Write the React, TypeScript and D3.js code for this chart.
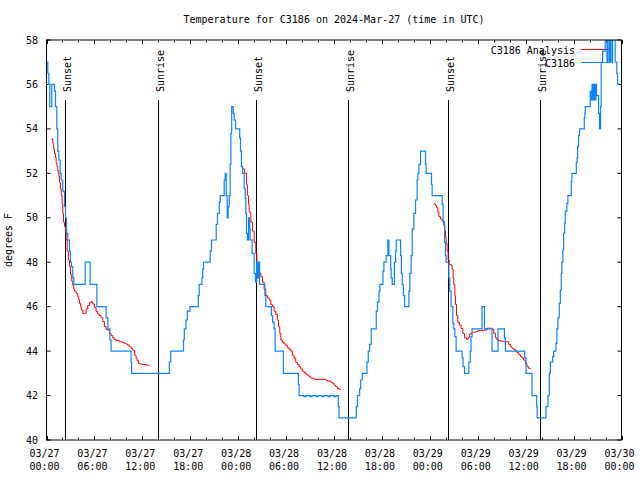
import React from "react";
import * as d3 from "d3";

const TITLE = "Temperature for C3186 on 2024-Mar-27 (time in UTC)";
const Y_LABEL = "degrees F";
const START = Date.UTC(2024, 2, 27, 0, 0);
const END = Date.UTC(2024, 2, 30, 0, 0);
const Y_MIN = 40;
const Y_MAX = 58;
const Y_TICKS = [40, 42, 44, 46, 48, 50, 52, 54, 56, 58];

// hours since 03/27 00:00 UTC
const sunsets = [2.3, 26.25, 50.25];
const sunrises = [13.9, 37.75, 61.75];

// observed station temperature (hours, degF)
const observed: [number, number][] = [
  [0, 57.0], [0.16, 56.5], [0.29, 56.0], [0.41, 55.0], [0.66, 56.0], [1.0, 55.7], [1.13, 55.0],
  [1.29, 54.0], [1.41, 53.0], [1.54, 52.6], [1.71, 52.0], [1.84, 51.7], [2.04, 51.2], [2.25, 50.5],
  [2.38, 50.0], [2.5, 49.3], [2.66, 49.0], [2.88, 48.5], [3.0, 48.0], [3.13, 47.8], [3.29, 47.3],
  [3.41, 47.0], [4.84, 48.0], [5.46, 47.0], [6.31, 46.0], [7.46, 45.5], [7.69, 45.0], [7.94, 44.5],
  [8.09, 44.0], [10.59, 43.5], [10.66, 43.0], [15.38, 43.5], [15.56, 44.0], [17.16, 44.5],
  [17.25, 45.0], [17.46, 45.4], [17.63, 45.8], [17.96, 46.0], [19.0, 46.5], [19.13, 47.0],
  [19.46, 47.3], [19.56, 47.7], [19.66, 48.0], [20.5, 48.5], [20.66, 49.0], [21.25, 49.7],
  [21.41, 50.2], [21.63, 50.7], [21.75, 51.0], [22.25, 51.7], [22.38, 52.0], [22.5, 51.0],
  [22.63, 50.0], [22.75, 50.5], [22.88, 51.0], [23.0, 52.4], [23.09, 53.8], [23.19, 55.0],
  [23.38, 54.7], [23.5, 54.4], [23.69, 54.0], [24.19, 53.6], [24.29, 53.0], [24.41, 52.3],
  [24.56, 52.0], [24.75, 51.3], [24.88, 50.9], [24.96, 50.2], [25.04, 49.3], [25.16, 49.0],
  [25.31, 50.0], [25.44, 49.5], [25.5, 49.0], [25.75, 48.4], [26.0, 47.5], [26.16, 47.1],
  [26.31, 48.0], [26.44, 47.3], [26.56, 48.0], [26.69, 47.0], [27.34, 46.5], [27.46, 46.0],
  [28.16, 45.6], [28.31, 45.3], [28.5, 45.0], [28.63, 44.0], [29.66, 43.0], [31.54, 42.5],
  [31.63, 42.0], [32.25, 41.95], [32.5, 42.0], [33.0, 41.95], [33.25, 42.0], [33.75, 41.95],
  [34.0, 42.0], [34.5, 41.95], [34.75, 42.0], [35.25, 41.95], [35.5, 42.0], [36.0, 41.95],
  [36.25, 42.0], [36.54, 41.5], [36.63, 41.0], [38.79, 41.5], [38.94, 42.0], [39.21, 42.3],
  [39.34, 42.7], [39.54, 43.0], [40.13, 43.5], [40.29, 44.0], [40.46, 44.3], [40.66, 45.0],
  [41.29, 45.8], [41.44, 46.2], [41.63, 46.7], [41.75, 47.0], [42.13, 47.6], [42.25, 48.0],
  [42.54, 48.3], [42.75, 49.0], [42.88, 48.3], [43.09, 47.7], [43.16, 47.3], [43.29, 47.0],
  [43.56, 48.0], [43.71, 48.5], [43.79, 49.0], [44.34, 48.3], [44.44, 47.5], [44.54, 47.0],
  [44.69, 46.5], [44.84, 46.0], [45.38, 46.7], [45.5, 47.5], [45.66, 48.3], [45.79, 49.5],
  [46.0, 50.2], [46.21, 50.8], [46.41, 51.7], [46.5, 52.0], [46.63, 52.4], [46.84, 53.0],
  [47.46, 52.4], [47.54, 52.0], [48.21, 51.5], [48.29, 51.0], [49.54, 50.6], [49.66, 49.8],
  [49.84, 48.9], [49.96, 48.3], [50.04, 48.0], [50.38, 47.3], [50.5, 46.7], [50.66, 46.0],
  [50.88, 45.25], [51.0, 45.0], [51.13, 44.65], [51.29, 44.0], [52.04, 43.7], [52.16, 43.3],
  [52.34, 43.0], [52.88, 43.5], [53.06, 44.0], [53.16, 44.65], [53.29, 45.0], [54.54, 46.0],
  [54.84, 45.0], [55.79, 44.0], [56.54, 45.0], [57.34, 44.6], [57.46, 44.0], [59.88, 43.7],
  [60.04, 43.0], [60.79, 42.0], [61.38, 41.5], [61.44, 41.0], [62.54, 41.5], [62.79, 42.0],
  [62.96, 43.0], [63.09, 43.5], [63.38, 43.75], [63.5, 44.0], [63.79, 44.35], [63.91, 45.0],
  [64.04, 45.5], [64.21, 46.15], [64.34, 46.75], [64.46, 47.5], [64.54, 48.0], [64.66, 48.55],
  [64.75, 49.3], [64.88, 49.75], [64.96, 50.3], [65.16, 50.65], [65.29, 51.0], [65.71, 51.6],
  [65.79, 52.0], [66.34, 52.5], [66.44, 52.7], [66.5, 53.2], [66.63, 53.7], [66.75, 54.0],
  [67.34, 54.5], [67.4, 54.7], [67.46, 55.0], [68.09, 55.7], [68.19, 55.3], [68.31, 56.0],
  [68.41, 55.3], [68.56, 56.0], [68.66, 55.3], [68.79, 56.0], [68.88, 55.5], [69.13, 54.7],
  [69.25, 54.0], [69.38, 55.0], [69.46, 57.0], [69.63, 57.5], [69.96, 58.5], [70.19, 57.0],
  [70.31, 58.5], [70.5, 57.0], [70.63, 58.5], [70.81, 57.0], [70.88, 58.5], [71.21, 57.0],
  [71.41, 56.5], [71.5, 56.0], [71.69, 56.0],
];

// analysis (model) temperature, three overnight segments
const analysis1: [number, number][] = [
  [0.63, 53.55], [0.79, 53.35], [0.9, 53.1], [1.0, 52.9], [1.13, 52.7], [1.21, 52.45], [1.31, 52.3],
  [1.41, 52.1], [1.54, 51.9], [1.63, 51.6], [1.75, 51.3], [1.84, 51.0], [1.96, 50.6], [2.04, 50.2],
  [2.13, 49.8], [2.25, 49.6], [2.38, 49.37], [2.46, 49.0], [2.59, 48.5], [2.75, 48.1], [2.88, 47.8],
  [3.0, 47.45], [3.16, 47.15], [3.29, 46.95], [3.41, 46.8], [3.5, 46.7], [3.71, 46.6], [3.91, 46.45],
  [4.04, 46.3], [4.13, 46.15], [4.25, 46.0], [4.38, 45.85], [4.54, 45.7], [4.75, 45.7], [4.96, 45.9],
  [5.16, 46.05], [5.38, 46.18], [5.59, 46.22], [5.79, 46.12], [6.0, 45.97], [6.21, 45.78],
  [6.41, 45.67], [6.63, 45.6], [6.84, 45.5], [7.04, 45.33], [7.25, 45.1], [7.46, 44.97],
  [7.66, 44.95], [7.88, 44.8], [8.09, 44.7], [8.29, 44.6], [8.5, 44.52], [8.71, 44.47],
  [9.13, 44.42], [9.54, 44.38], [9.75, 44.35], [9.96, 44.32], [10.16, 44.27], [10.38, 44.2],
  [10.59, 44.12], [10.79, 44.05], [11.0, 43.82], [11.21, 43.68], [11.34, 43.57], [11.5, 43.45],
  [11.63, 43.42], [12.04, 43.4], [12.46, 43.37], [12.88, 43.36],
];
const analysis2: [number, number][] = [
  [24.63, 52.2], [24.81, 52.0], [25.04, 51.5], [25.16, 51.0], [25.29, 50.6], [25.38, 50.25],
  [25.59, 49.8], [25.79, 49.4], [26.0, 48.9], [26.21, 48.4], [26.34, 47.9], [26.5, 47.55],
  [26.63, 47.5], [26.84, 47.35], [27.04, 47.1], [27.25, 46.8], [27.46, 46.5], [27.66, 46.4],
  [27.88, 46.3], [28.09, 46.1], [28.29, 46.0], [28.5, 45.8], [28.71, 45.65], [28.91, 45.4],
  [29.04, 45.1], [29.21, 44.8], [29.34, 44.5], [29.54, 44.4], [29.75, 44.32], [29.96, 44.25],
  [30.16, 44.15], [30.38, 44.08], [30.59, 44.0], [30.79, 43.82], [31.0, 43.68], [31.21, 43.5],
  [31.41, 43.4], [31.63, 43.3], [31.84, 43.2], [32.04, 43.1], [32.25, 43.03], [32.46, 42.97],
  [32.66, 42.92], [32.88, 42.85], [33.09, 42.78], [33.5, 42.73], [34.75, 42.73], [34.96, 42.7],
  [35.16, 42.65], [35.59, 42.6], [35.79, 42.55], [36.0, 42.47], [36.21, 42.4], [36.41, 42.32],
  [36.63, 42.28], [36.88, 42.28],
];
const analysis3: [number, number][] = [
  [48.5, 50.62], [48.71, 50.55], [48.84, 50.45], [49.0, 50.25], [49.13, 50.05], [49.34, 49.95],
  [49.54, 49.85], [49.75, 49.65], [49.88, 49.4], [49.96, 49.15], [50.04, 48.85], [50.16, 48.5],
  [50.29, 48.1], [50.44, 47.9], [50.66, 47.85], [50.79, 47.7], [50.91, 47.3], [51.0, 47.0],
  [51.13, 46.5], [51.21, 46.1], [51.34, 45.6], [51.5, 45.3], [51.71, 45.17], [51.91, 45.02],
  [52.13, 44.8], [52.34, 44.6], [52.59, 44.53], [52.79, 44.6], [52.96, 44.76], [53.16, 44.82],
  [53.41, 44.85], [53.71, 44.87], [53.91, 44.9], [54.13, 44.92], [54.34, 44.93], [54.75, 44.95],
  [55.16, 45.03], [55.59, 45.03], [55.79, 44.98], [56.0, 44.8], [56.21, 44.6], [56.41, 44.5],
  [56.63, 44.47], [56.84, 44.45], [57.25, 44.42], [57.66, 44.42], [57.88, 44.3], [58.09, 44.2],
  [58.29, 44.12], [58.5, 44.08], [58.71, 44.0], [58.91, 43.93], [59.13, 43.84], [59.34, 43.76],
  [59.54, 43.7], [59.75, 43.6], [59.96, 43.45], [60.16, 43.3], [60.38, 43.22], [60.63, 43.22],
];

const LEGEND = [
  { label: "C3186 Analysis", color: "#ff0000" },
  { label: "C3186", color: "#0a84ff" },
];

const W = 640;
const H = 480;
const M = { left: 46.5, right: 621.5, top: 40, bottom: 440 };
const FONT = "'DejaVu Sans Mono', 'Liberation Mono', monospace";

export default function App() {
  const toDate = (h: number) => new Date(START + h * 3600 * 1000);
  const x = d3.scaleUtc().domain([new Date(START), new Date(END)]).range([M.left, M.right]);
  const y = d3.scaleLinear().domain([Y_MIN, Y_MAX]).range([M.bottom, M.top]);

  const line = d3
    .line<[number, number]>()
    .x((d) => x(toDate(d[0])))
    .y((d) => y(d[1]))
    .curve(d3.curveStepAfter);

  const minorTicks = d3.utcHour.every(2)!.range(new Date(START), new Date(END + 1));
  const majorTicks = d3.utcHour.every(6)!.range(new Date(START), new Date(END + 1));
  const fmtDate = d3.utcFormat("%m/%d");
  const fmtTime = d3.utcFormat("%H:%M");

  const sunLines = [
    ...sunsets.map((h) => ({ h, label: "Sunset" })),
    ...sunrises.map((h) => ({ h, label: "Sunrise" })),
  ];

  return (
    <svg
      width={W}
      height={H}
      style={{ position: "absolute", left: 0, top: 0, background: "#fff" }}
      fontFamily={FONT}
      fontSize={10}
    >
      <defs>
        <clipPath id="plotClip">
          <rect x={M.left} y={M.top} width={M.right - M.left} height={M.bottom - M.top} />
        </clipPath>
      </defs>
      <rect x={0} y={0} width={W} height={H} fill="#fff" />
      <text x={(M.left + M.right) / 2} y={23} textAnchor="middle" fill="#000">
        {TITLE}
      </text>
      <text
        transform={`translate(12,${(M.top + M.bottom) / 2}) rotate(-90)`}
        textAnchor="middle"
        fill="#000"
      >
        {Y_LABEL}
      </text>

      {/* y ticks */}
      {Y_TICKS.map((t) => (
        <g key={"y" + t}>
          <line x1={M.left} x2={M.left + 4} y1={y(t)} y2={y(t)} stroke="#000" />
          <line x1={M.right - 4} x2={M.right} y1={y(t)} y2={y(t)} stroke="#000" />
          <text x={38} y={y(t)} dy="0.35em" textAnchor="end" fill="#000">
            {t}
          </text>
        </g>
      ))}
      {/* x ticks */}
      {minorTicks.map((d) => {
        const xv = Math.round(x(d)) + 0.5;
        const major = d.getUTCHours() % 6 === 0;
        const len = major ? 4 : 2.5;
        return (
          <g key={"xm" + d.getTime()}>
            <line x1={xv} x2={xv} y1={M.bottom} y2={M.bottom - len} stroke="#000" />
            <line x1={xv} x2={xv} y1={M.top} y2={M.top + len} stroke="#000" />
          </g>
        );
      })}
      {majorTicks.map((d) => (
        <text key={"xl" + d.getTime()} x={x(d) - 2} y={457} textAnchor="middle" fill="#000">
          <tspan x={x(d) - 2}>{fmtDate(d)}</tspan>
          <tspan x={x(d) - 2} dy={13}>{fmtTime(d)}</tspan>
        </text>
      ))}

      {/* sunrise / sunset markers */}
      {sunLines.map((s) => {
        const xv = Math.round(x(toDate(s.h))) + 0.5;
        return (
          <g key={s.label + s.h}>
            <line x1={xv} x2={xv} y1={100} y2={M.bottom} stroke="#000" />
            <text
              transform={`translate(${xv + 2},92) rotate(-90)`}
              dy="0.35em"
              textAnchor="start"
              fill="#000"
            >
              {s.label}
            </text>
          </g>
        );
      })}

      {/* legend + data */}
      <text x={575} y={50} dy="0.35em" textAnchor="end" fill="#000">
        {LEGEND[0].label}
      </text>
      <line x1={581} x2={610} y1={49.5} y2={49.5} stroke={LEGEND[0].color} />
      <g clipPath="url(#plotClip)" fill="none">
        {[analysis1, analysis2, analysis3].map((seg, i) => (
          <path key={"a" + i} d={line(seg) || ""} stroke={LEGEND[0].color} strokeWidth={1} />
        ))}
      </g>
      <text x={575} y={63} dy="0.35em" textAnchor="end" fill="#000">
        {LEGEND[1].label}
      </text>
      <line x1={581} x2={610} y1={62.5} y2={62.5} stroke={LEGEND[1].color} />
      <g clipPath="url(#plotClip)" fill="none">
        <path d={line(observed) || ""} stroke={LEGEND[1].color} strokeWidth={1.2} />
      </g>

      {/* frame */}
      <rect
        x={M.left}
        y={M.top}
        width={M.right - M.left}
        height={M.bottom - M.top}
        fill="none"
        stroke="#000"
      />
    </svg>
  );
}
